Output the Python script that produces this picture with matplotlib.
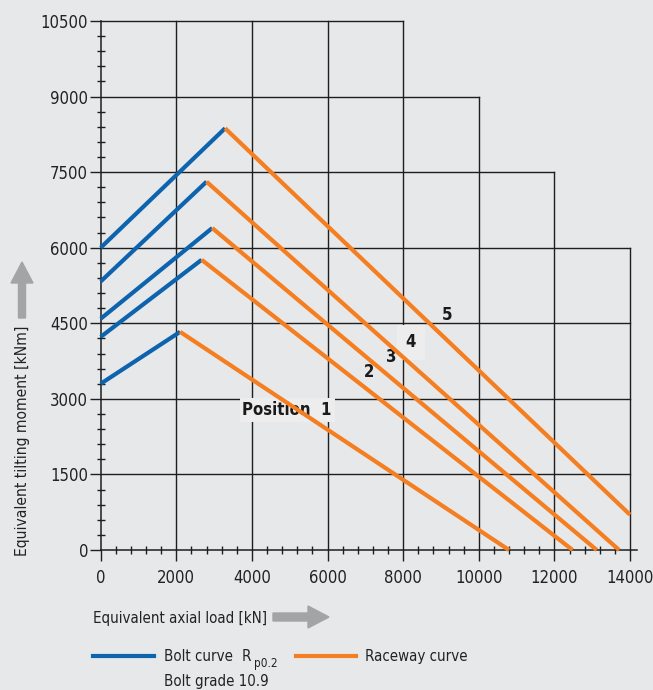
import numpy as np
import matplotlib.pyplot as plt
from matplotlib.patches import FancyArrow
from matplotlib.lines import Line2D

plt.rcParams['font.family'] = ['DejaVu Sans']
plt.rcParams['font.stretch'] = 'condensed'

# curves: start on the moment axis, peak (bolt -> raceway), end point
positions = ['1', '2', '3', '4', '5']
start_y = [3300, 4230, 4590, 5330, 6000]
peak_x = [2100, 2670, 2950, 2800, 3290]
peak_y = [4330, 5760, 6390, 7310, 8370]
end_x = [10800, 12480, 13120, 13710, 14000]
end_y = [0, 0, 0, 0, 700]

# label positions for each curve
label_text = ['Position  1', '2', '3', '4', '5']
label_x = [3750, 6950, 7540, 8070, 9020]
label_y = [2780, 3540, 3825, 4120, 4660]

x_ticks = [0, 2000, 4000, 6000, 8000, 10000, 12000, 14000]
y_ticks = [0, 1500, 3000, 4500, 6000, 7500, 9000, 10500]
# staircase grid: how far each line reaches
vgrid_top = [10500, 10500, 10500, 10500, 9000, 7500, 6000]
hgrid_end = [14000, 14000, 14000, 14000, 12000, 10000, 8000]

bg = '#e6e8ea'
blue = '#0d63ad'
orange = '#f47e20'
gridc = '#1e1e1e'
txt = '#222222'

fig = plt.figure(figsize=(6.53, 6.9), dpi=100, facecolor=bg)
ax = fig.add_axes([0.1542, 0.2029, 0.821, 0.7667])
ax.set_facecolor(bg)
ax.set_xlim(0, 14180)
ax.set_ylim(0, 10500)
for s in ['top', 'right']:
    ax.spines[s].set_visible(False)
for s in ['left', 'bottom']:
    ax.spines[s].set_color(gridc)
    ax.spines[s].set_linewidth(1.1)

for x, top in zip(x_ticks[1:], vgrid_top):
    ax.plot([x, x], [0, top], color=gridc, lw=1.0, zorder=1, clip_on=False)
for y, xe in zip(y_ticks[1:], hgrid_end):
    ax.plot([0, xe], [y, y], color=gridc, lw=1.0, zorder=1, clip_on=False)

for i in range(len(positions)):
    ax.plot([0, peak_x[i]], [start_y[i], peak_y[i]], color=blue, lw=3.0,
            solid_capstyle='butt', zorder=4, clip_on=False)
    ax.plot([peak_x[i], end_x[i]], [peak_y[i], end_y[i]], color=orange, lw=3.0,
            solid_capstyle='butt', zorder=4, clip_on=False)

for t, x, y in zip(label_text, label_x, label_y):
    bb = None
    if t.startswith('Position'):
        bb = dict(facecolor='#ededee', edgecolor='none', pad=2)
    elif t == '4':
        bb = dict(facecolor='#ededee', edgecolor='none', pad=6)
    ax.text(x, y, t, fontsize=12, fontweight='bold', color='#1a1a1a',
            ha='left', va='center', bbox=bb, zorder=3)

ax.set_xticks(x_ticks)
ax.set_yticks(y_ticks)
ax.set_xticks(np.arange(0, 14001, 400), minor=True)
ax.set_yticks(np.arange(0, 10501, 300), minor=True)
ax.tick_params(axis='both', which='major', direction='out', length=8,
               width=1.0, color=gridc, labelsize=12, labelcolor=txt)
ax.tick_params(axis='x', which='major', pad=6)
ax.tick_params(axis='y', which='major', pad=1)
ax.tick_params(axis='both', which='minor', direction='inout', length=6,
               width=1.0, color=gridc)

# axis titles with grey arrows
fig.text(0.034, 0.361, 'Equivalent tilting moment [kNm]', rotation=90,
         fontsize=11.2, color=txt, ha='center', va='center')
fig.add_artist(FancyArrow(0.22, 3.72, 0, 0.56, width=0.07, head_width=0.22,
                          head_length=0.21, length_includes_head=True,
                          color='#a3a4a6', transform=fig.dpi_scale_trans))
fig.text(0.142, 0.104, 'Equivalent axial load [kN]', fontsize=10.8,
         color=txt, ha='left', va='center')
fig.add_artist(FancyArrow(2.73, 0.73, 0.56, 0, width=0.08, head_width=0.22,
                          head_length=0.21, length_includes_head=True,
                          color='#a3a4a6', transform=fig.dpi_scale_trans))

# legend
fig.add_artist(Line2D([0.1424, 0.2358], [0.049, 0.049], color=blue, lw=3.0,
                      transform=fig.transFigure))
fig.text(0.251, 0.049, 'Bolt curve', fontsize=10.8, color=txt,
         ha='left', va='center')
fig.text(0.3706, 0.049, 'R', fontsize=10.8, color=txt,
         ha='left', va='center')
fig.text(0.389, 0.039, 'p0.2', fontsize=8.5, color=txt,
         ha='left', va='center')
fig.text(0.251, 0.013, 'Bolt grade 10.9', fontsize=10.8, color=txt,
         ha='left', va='center')
fig.add_artist(Line2D([0.4533, 0.5452], [0.049, 0.049], color=orange, lw=3.0,
                      transform=fig.transFigure))
fig.text(0.559, 0.049, 'Raceway curve', fontsize=10.8, color=txt,
         ha='left', va='center')

fig.savefig('out.png', dpi=100, facecolor=bg)
